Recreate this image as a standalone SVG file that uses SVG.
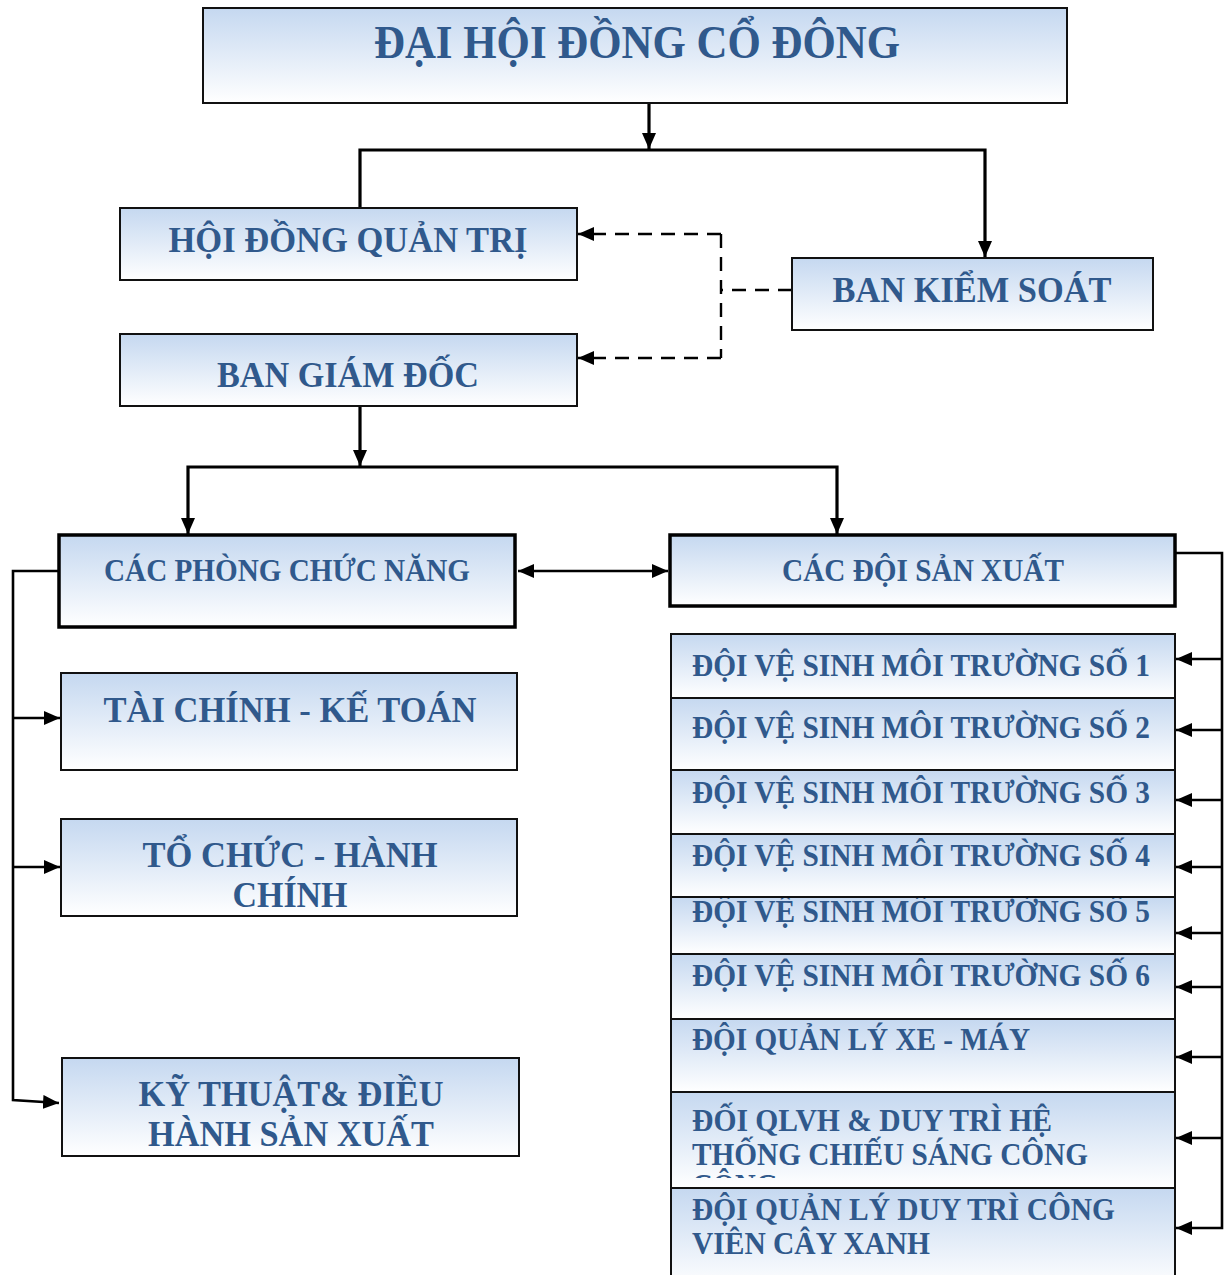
<svg xmlns="http://www.w3.org/2000/svg" width="1230" height="1275" viewBox="0 0 1230 1275">
<defs>
<linearGradient id="g" x1="0" y1="0" x2="0" y2="1">
<stop offset="0" stop-color="#c5d8f0"/>
<stop offset="1" stop-color="#ffffff"/>
</linearGradient>
<marker id="ah" viewBox="0 0 16 14" refX="16" refY="7" markerWidth="16" markerHeight="14" markerUnits="userSpaceOnUse" orient="auto-start-reverse">
<path d="M0,0 L16,7 L0,14 z" fill="#000"/>
</marker>
<clipPath id="c5"><rect x="671" y="898" width="504" height="56"/></clipPath>
<clipPath id="c8"><rect x="671" y="1093" width="504" height="85"/></clipPath>
<style>
.box{fill:url(#g);stroke:#111;stroke-width:2}
.thick{fill:url(#g);stroke:#000;stroke-width:3.5}
text{font-family:"Liberation Serif","Times New Roman",serif;font-weight:bold;fill:#30598c}
.c{text-anchor:middle}
.ln{fill:none;stroke:#000;stroke-width:3.2}
.lt{fill:none;stroke:#000;stroke-width:2.6}
.ds{fill:none;stroke:#000;stroke-width:2.4;stroke-dasharray:14 9}
</style>
</defs>
<rect width="1230" height="1275" fill="#fff"/>

<g id="connectors">
<line class="ln" x1="649" y1="103" x2="649" y2="149" marker-end="url(#ah)"/>
<polyline class="ln" points="360,208 360,150 985,150 985,257" marker-end="url(#ah)"/>
<polyline class="ds" points="792,290 721,290"/>
<polyline class="ds" points="721,234 721,358"/>
<line class="ds" x1="721" y1="234" x2="578" y2="234" marker-end="url(#ah)"/>
<line class="ds" x1="721" y1="358" x2="578" y2="358" marker-end="url(#ah)"/>
<line class="ln" x1="360" y1="406" x2="360" y2="466" marker-end="url(#ah)"/>
<polyline class="ln" points="188,534 188,467 837,467 837,534" marker-end="url(#ah)" marker-start="url(#ah)"/>
<line class="lt" x1="518" y1="571" x2="668" y2="571" marker-start="url(#ah)" marker-end="url(#ah)"/>
<polyline class="lt" points="58,571 13,571 13,1100 59,1103" marker-end="url(#ah)"/>
<line class="lt" x1="13" y1="718" x2="60" y2="718" marker-end="url(#ah)"/>
<line class="lt" x1="13" y1="867" x2="60" y2="867" marker-end="url(#ah)"/>
<polyline class="lt" points="1175,553 1222,553 1222,1228 1176,1228" marker-end="url(#ah)"/>
<line class="lt" x1="1222" y1="659" x2="1176" y2="659" marker-end="url(#ah)"/>
<line class="lt" x1="1222" y1="730" x2="1176" y2="730" marker-end="url(#ah)"/>
<line class="lt" x1="1222" y1="800" x2="1176" y2="800" marker-end="url(#ah)"/>
<line class="lt" x1="1222" y1="867" x2="1176" y2="867" marker-end="url(#ah)"/>
<line class="lt" x1="1222" y1="933" x2="1176" y2="933" marker-end="url(#ah)"/>
<line class="lt" x1="1222" y1="987" x2="1176" y2="987" marker-end="url(#ah)"/>
<line class="lt" x1="1222" y1="1057" x2="1176" y2="1057" marker-end="url(#ah)"/>
<line class="lt" x1="1222" y1="1138" x2="1176" y2="1138" marker-end="url(#ah)"/>
</g>

<g id="dhdcd">
<rect class="box" x="203" y="8" width="864" height="95"/>
<text class="c" x="637" y="58" font-size="46" textLength="526" lengthAdjust="spacingAndGlyphs">ĐẠI HỘI ĐỒNG CỔ ĐÔNG</text>
</g>
<g id="hdqt">
<rect class="box" x="120" y="208" width="457" height="72"/>
<text class="c" x="348" y="252" font-size="35" textLength="359" lengthAdjust="spacingAndGlyphs">HỘI ĐỒNG QUẢN TRỊ</text>
</g>
<g id="bks">
<rect class="box" x="792" y="258" width="361" height="72"/>
<text class="c" x="972" y="302" font-size="35" textLength="279" lengthAdjust="spacingAndGlyphs">BAN KIỂM SOÁT</text>
</g>
<g id="bgd">
<rect class="box" x="120" y="334" width="457" height="72"/>
<text class="c" x="348" y="387" font-size="35" textLength="262" lengthAdjust="spacingAndGlyphs">BAN GIÁM ĐỐC</text>
</g>
<g id="cpcn">
<rect class="thick" x="59" y="535" width="456" height="92"/>
<text class="c" x="287" y="581" font-size="31" textLength="366" lengthAdjust="spacingAndGlyphs">CÁC PHÒNG CHỨC NĂNG</text>
</g>
<g id="cdsx">
<rect class="thick" x="670" y="535" width="505" height="71"/>
<text class="c" x="923" y="581" font-size="31" textLength="282" lengthAdjust="spacingAndGlyphs">CÁC ĐỘI SẢN XUẤT</text>
</g>
<g id="tckt">
<rect class="box" x="61" y="673" width="456" height="97"/>
<text class="c" x="290" y="722" font-size="35" textLength="373" lengthAdjust="spacingAndGlyphs">TÀI CHÍNH - KẾ TOÁN</text>
</g>
<g id="tchc">
<rect class="box" x="61" y="819" width="456" height="97"/>
<text class="c" x="290" y="867" font-size="35" textLength="295" lengthAdjust="spacingAndGlyphs">TỔ CHỨC - HÀNH</text>
<text class="c" x="290" y="907" font-size="35" textLength="115" lengthAdjust="spacingAndGlyphs">CHÍNH</text>
</g>
<g id="ktdhsx">
<rect class="box" x="62" y="1058" width="457" height="98"/>
<text class="c" x="291" y="1106" font-size="35" textLength="305" lengthAdjust="spacingAndGlyphs">KỸ THUẬT&amp; ĐIỀU</text>
<text class="c" x="291" y="1146" font-size="35" textLength="286" lengthAdjust="spacingAndGlyphs">HÀNH SẢN XUẤT</text>
</g>

<g id="doi1">
<rect class="box" x="671" y="634" width="504" height="64"/>
<text x="692" y="676" font-size="32" textLength="458" lengthAdjust="spacingAndGlyphs">ĐỘI VỆ SINH MÔI TRƯỜNG SỐ 1</text>
</g>
<g id="doi2">
<rect class="box" x="671" y="698" width="504" height="72"/>
<text x="692" y="738" font-size="32" textLength="458" lengthAdjust="spacingAndGlyphs">ĐỘI VỆ SINH MÔI TRƯỜNG SỐ 2</text>
</g>
<g id="doi3">
<rect class="box" x="671" y="770" width="504" height="64"/>
<text x="692" y="803" font-size="32" textLength="458" lengthAdjust="spacingAndGlyphs">ĐỘI VỆ SINH MÔI TRƯỜNG SỐ 3</text>
</g>
<g id="doi4">
<rect class="box" x="671" y="834" width="504" height="63"/>
<text x="692" y="866" font-size="32" textLength="458" lengthAdjust="spacingAndGlyphs">ĐỘI VỆ SINH MÔI TRƯỜNG SỐ 4</text>
</g>
<g id="doi5">
<rect class="box" x="671" y="897" width="504" height="57"/>
<text x="692" y="922" font-size="32" textLength="458" lengthAdjust="spacingAndGlyphs" clip-path="url(#c5)">ĐỘI VỆ SINH MÔI TRƯỜNG SỐ 5</text>
</g>
<g id="doi6">
<rect class="box" x="671" y="954" width="504" height="65"/>
<text x="692" y="986" font-size="32" textLength="458" lengthAdjust="spacingAndGlyphs">ĐỘI VỆ SINH MÔI TRƯỜNG SỐ 6</text>
</g>
<g id="doi7">
<rect class="box" x="671" y="1019" width="504" height="73"/>
<text x="692" y="1050" font-size="32" textLength="338" lengthAdjust="spacingAndGlyphs">ĐỘI QUẢN LÝ XE - MÁY</text>
</g>
<g id="doi8">
<rect class="box" x="671" y="1092" width="504" height="96"/>
<g clip-path="url(#c8)">
<text x="692" y="1131" font-size="32" textLength="360" lengthAdjust="spacingAndGlyphs">ĐỐI QLVH &amp; DUY TRÌ HỆ</text>
<text x="692" y="1165" font-size="32" textLength="396" lengthAdjust="spacingAndGlyphs">THỐNG CHIẾU SÁNG CÔNG</text>
<text x="692" y="1196" font-size="32" textLength="86" lengthAdjust="spacingAndGlyphs">CỘNG</text>
</g>
</g>
<g id="doi9">
<rect class="box" x="671" y="1188" width="504" height="100"/>
<text x="692" y="1220" font-size="32" textLength="423" lengthAdjust="spacingAndGlyphs">ĐỘI QUẢN LÝ DUY TRÌ CÔNG</text>
<text x="692" y="1254" font-size="32" textLength="238" lengthAdjust="spacingAndGlyphs">VIÊN CÂY XANH</text>
</g>
</svg>
